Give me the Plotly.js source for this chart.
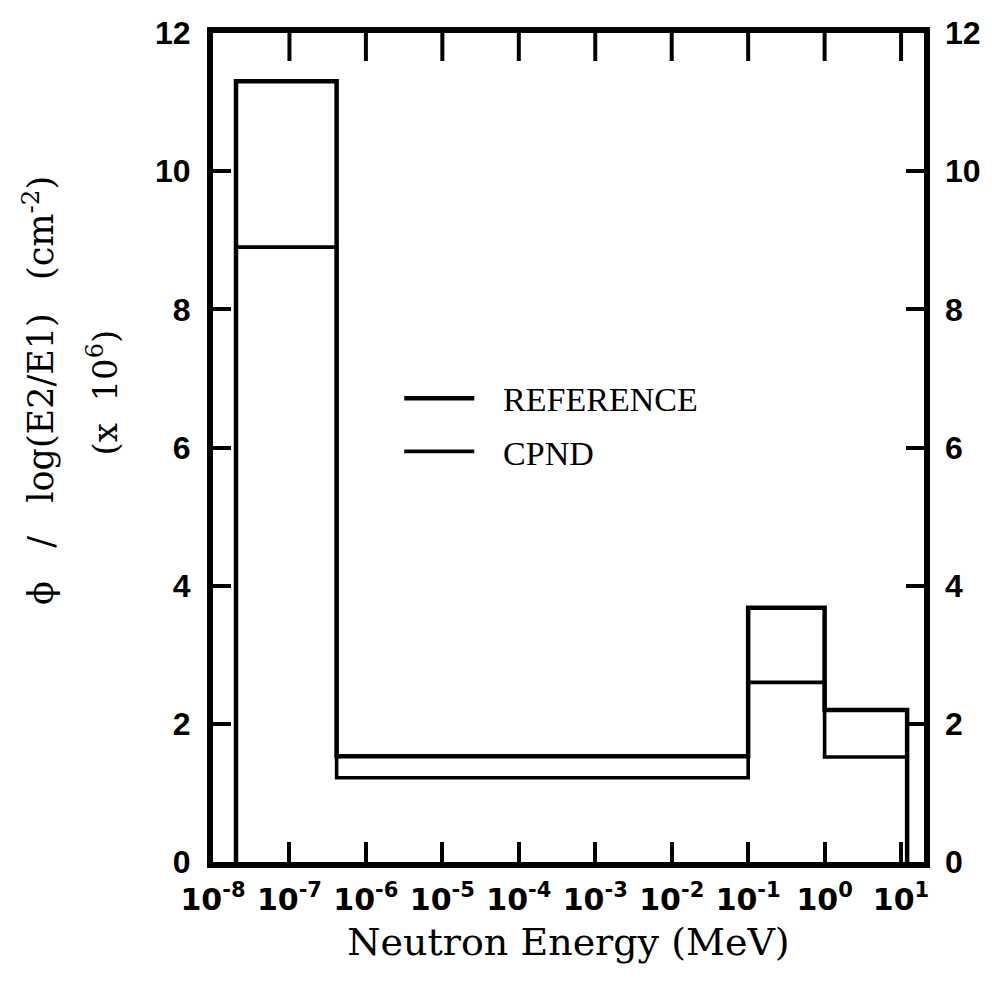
<!DOCTYPE html>
<html>
<head>
<meta charset="utf-8">
<script src="https://cdn.plot.ly/plotly-3.0.1.min.js"></script>
<style>
  html, body { margin: 0; padding: 0; background: #fff; }
  #chart { width: 992px; height: 996px; }
</style>
</head>
<body>
<div id="chart"></div>
<script>
// Energy group boundaries (MeV)
const binEdges = [2e-8, 4.14e-7, 0.1, 1, 12];
// phi / log(E2/E1) (x 10^6 cm^-2) per group
const referenceValues = [11.3, 1.53, 3.68, 2.2];
const cpndValues = [8.9, 1.22, 2.6, 1.52];
// Axis ticks
const xTickVals = [1e-8, 1e-7, 1e-6, 1e-5, 1e-4, 1e-3, 1e-2, 1e-1, 1e0, 1e1];
const xTickText = ['10<sup>-8</sup>', '10<sup>-7</sup>', '10<sup>-6</sup>', '10<sup>-5</sup>', '10<sup>-4</sup>',
                   '10<sup>-3</sup>', '10<sup>-2</sup>', '10<sup>-1</sup>', '10<sup>0</sup>', '10<sup>1</sup>'];
const yTickVals = [0, 2, 4, 6, 8, 10, 12];
const yMax = yTickVals[yTickVals.length - 1];

function stepXY(edges, vals) {
  return { x: [edges[0]].concat(edges), y: [0].concat(vals, [0]) };
}

const ref = stepXY(binEdges, referenceValues);
const cpnd = stepXY(binEdges, cpndValues);

const tickFont = { family: 'Liberation Sans, Arial, sans-serif', size: 32, color: '#000', weight: 'bold' };
const xTickFont = { family: 'DejaVu Sans, sans-serif', size: 30, color: '#000', weight: 'bold' };
const serif = 'DejaVu Serif, Liberation Serif, serif';

// top-edge ticks: vertical-bar markers centred on the top of the frame; the plot clip keeps only the inner half
const topTickX = xTickVals.slice(1);
const topTickY = topTickX.map(() => yMax);

const traces = [
  { x: ref.x, y: ref.y, type: 'scatter', mode: 'lines', name: '\u2002\u2009REFERENCE',
    line: { shape: 'hv', color: '#000', width: 4.5 }, legendgroup: 'a' },
  { x: cpnd.x, y: cpnd.y, type: 'scatter', mode: 'lines', name: '\u2002\u2009CPND',
    line: { shape: 'hv', color: '#000', width: 3.6 }, legendgroup: 'b' },
  { x: topTickX, y: topTickY, type: 'scatter', mode: 'markers', cliponaxis: true,
    marker: { symbol: 'line-ns-open', size: 40, color: '#000', line: { color: '#000', width: 4 } },
    showlegend: false, hoverinfo: 'skip' },
  { x: [binEdges[0]], y: [0], yaxis: 'y2', type: 'scatter', mode: 'lines',
    line: { width: 0 }, showlegend: false, hoverinfo: 'skip' }
];

const layout = {
  width: 992, height: 996,
  paper_bgcolor: '#fff', plot_bgcolor: '#fff',
  margin: { l: 213, r: 68, t: 33, b: 134 },
  showlegend: true,
  legend: {
    x: 0.262, y: 0.594, xanchor: 'left', yanchor: 'top',
    bgcolor: 'rgba(0,0,0,0)', borderwidth: 0,
    font: { family: 'Liberation Serif, serif', size: 34, color: '#000' },
    itemwidth: 70, tracegroupgap: 6
  },
  xaxis: {
    type: 'log', range: [-8, 1.3],
    tickmode: 'array', tickvals: xTickVals, ticktext: xTickText,
    ticks: 'inside', ticklen: 20, tickwidth: 4, tickcolor: '#000',
    showline: true, linewidth: 6, linecolor: '#000', mirror: true,
    showgrid: false, zeroline: false,
    tickfont: xTickFont, ticklabelstandoff: 6,
    title: { text: 'Neutron Energy (MeV)', font: { family: serif, size: 38, color: '#000' }, standoff: 14 }
  },
  yaxis: {
    range: [0, 12], tickmode: 'array', tickvals: yTickVals,
    ticks: 'inside', ticklen: 18, tickwidth: 4, tickcolor: '#000',
    showline: true, linewidth: 6, linecolor: '#000', mirror: true,
    showgrid: false, zeroline: false,
    tickfont: tickFont, ticklabelstandoff: 10
  },
  yaxis2: {
    range: [0, 12], overlaying: 'y', side: 'right', anchor: 'x',
    tickmode: 'array', tickvals: yTickVals,
    ticks: 'inside', ticklen: 18, tickwidth: 4, tickcolor: '#000',
    showline: false, showgrid: false, zeroline: false,
    tickfont: tickFont, ticklabelstandoff: 20
  },
  annotations: [
    { text: 'ϕ   /   log(E2/E1)   (cm<sup>-2</sup>)', xref: 'paper', yref: 'paper',
      x: -0.245, y: 0.569, xanchor: 'center', yanchor: 'middle', textangle: -90, showarrow: false,
      font: { family: serif, size: 35, color: '#000' } },
    { text: '(x  10<sup>6</sup>)', xref: 'paper', yref: 'paper',
      x: -0.155, y: 0.566, xanchor: 'center', yanchor: 'middle', textangle: -90, showarrow: false,
      font: { family: serif, size: 34, color: '#000' } }
  ]
};

Plotly.newPlot('chart', traces, layout, { displayModeBar: false, staticPlot: true });
</script>
</body>
</html>
